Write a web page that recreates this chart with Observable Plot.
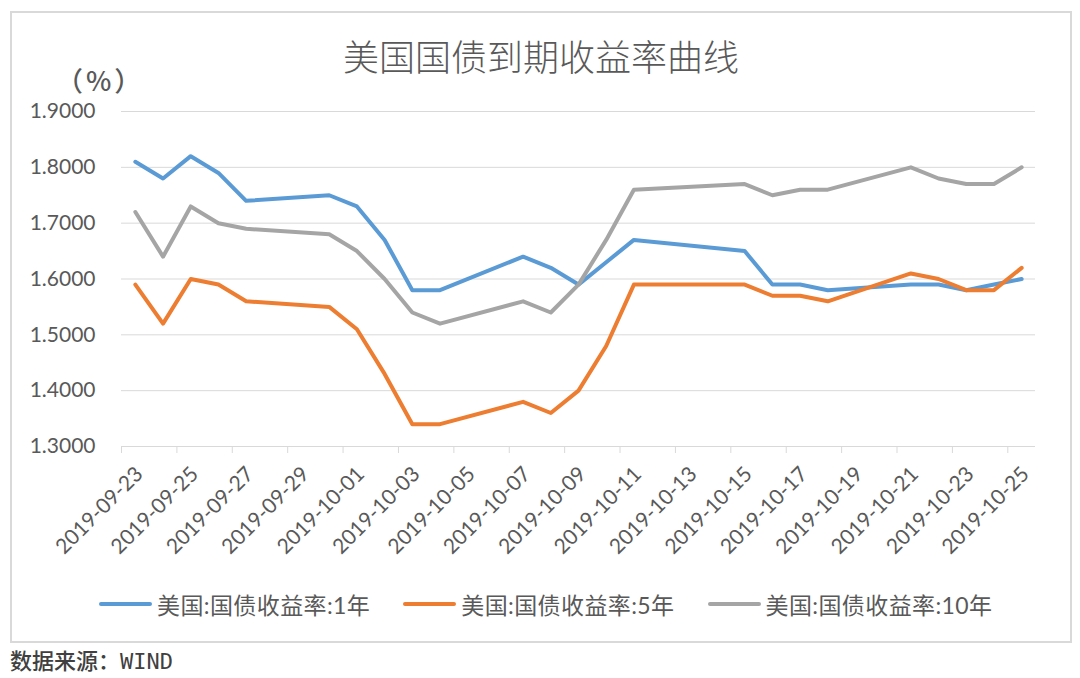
<!DOCTYPE html>
<html><head><meta charset="utf-8">
<script src="https://cdn.jsdelivr.net/npm/d3@7"></script>
<script src="https://cdn.jsdelivr.net/npm/@observablehq/plot@0.6"></script>
<style>
body{margin:0;background:#fff;}
#wrap{position:relative;width:1080px;height:678px;overflow:hidden;font-family:Lato,"Noto Sans CJK SC",sans-serif;}
#frame{position:absolute;left:10px;top:11px;width:1062px;height:632px;border:2px solid #D9D9D9;box-sizing:border-box;pointer-events:none;}
#head{position:relative;height:90px;}
#title{position:absolute;left:10px;width:1062px;top:33px;text-align:center;font-size:36px;line-height:44px;color:#595959;font-family:"Noto Sans CJK SC",sans-serif;font-weight:300;}
#unit{position:absolute;left:56px;top:64px;font-size:27px;line-height:32px;letter-spacing:3px;color:#595959;font-family:"Noto Sans CJK SC",sans-serif;font-weight:500;}
#chart svg{display:block;}
#legend{height:68px;display:flex;align-items:center;padding-left:99px;gap:33px;font-size:23px;letter-spacing:0.4px;color:#595959;font-family:Lato,"Noto Sans CJK SC",sans-serif;}
.item{display:flex;align-items:center;}
.sw{width:53px;height:4px;margin-right:5px;border-radius:2px;}
#source{margin-top:11px;height:26px;line-height:26px;padding-left:10px;font-size:22px;font-weight:500;color:#404040;font-family:"DejaVu Sans Mono","Noto Sans CJK SC",monospace;}
</style>
</head><body>
<div id="wrap">
  <div id="frame"></div>
  <div id="head"><div id="title">美国国债到期收益率曲线</div><div id="unit">（%）</div></div>
  <div id="chart"></div>
  <div id="legend"></div>
  <div id="source">数据来源：WIND</div>
</div>
<script>
const dates = ["2019-09-23","2019-09-24","2019-09-25","2019-09-26","2019-09-27","2019-09-30","2019-10-01","2019-10-02","2019-10-03","2019-10-04","2019-10-07","2019-10-08","2019-10-09","2019-10-10","2019-10-11","2019-10-15","2019-10-16","2019-10-17","2019-10-18","2019-10-21","2019-10-22","2019-10-23","2019-10-24","2019-10-25"];
const yield1 = [1.81,1.78,1.82,1.79,1.74,1.75,1.73,1.67,1.58,1.58,1.64,1.62,1.59,1.63,1.67,1.65,1.59,1.59,1.58,1.59,1.59,1.58,1.59,1.60];
const yield5 = [1.59,1.52,1.60,1.59,1.56,1.55,1.51,1.43,1.34,1.34,1.38,1.36,1.40,1.48,1.59,1.59,1.57,1.57,1.56,1.61,1.60,1.58,1.58,1.62];
const yield10 = [1.72,1.64,1.73,1.70,1.69,1.68,1.65,1.60,1.54,1.52,1.56,1.54,1.59,1.67,1.76,1.77,1.75,1.76,1.76,1.80,1.78,1.77,1.77,1.80];
const seriesNames = ["美国:国债收益率:1年","美国:国债收益率:5年","美国:国债收益率:10年"];
const seriesColors = ["#5B9BD5","#ED7D31","#A5A5A5"];
const xLabels = ["2019-09-23","2019-09-25","2019-09-27","2019-09-29","2019-10-01","2019-10-03","2019-10-05","2019-10-07","2019-10-09","2019-10-11","2019-10-13","2019-10-15","2019-10-17","2019-10-19","2019-10-21","2019-10-23","2019-10-25"];
const yTicks = [1.3,1.4,1.5,1.6,1.7,1.8,1.9];

const parse = d3.utcParse("%Y-%m-%d");
const fmt = d3.utcFormat("%Y-%m-%d");
const HALF = 12*3600*1000;
const allSeries = [yield1, yield5, yield10];
const rows = [];
allSeries.forEach((vals, i) => vals.forEach((v, j) => rows.push({date: parse(dates[j]), value: v, series: seriesNames[i]})));
const labelDates = xLabels.map(parse);
const boundaryDates = labelDates.map(d => new Date(+d - HALF));
const xDomain = [new Date(+parse(dates[0]) - HALF), new Date(+parse(dates[dates.length-1]) + HALF)];

const chart = Plot.plot({
  width: 1080, height: 480,
  marginLeft: 121, marginRight: 45, marginTop: 21, marginBottom: 124,
  style: {fontFamily: "Lato, 'Noto Sans CJK SC', sans-serif", fontSize: "21px", color: "#595959", background: "transparent", overflow: "visible"},
  x: {type: "utc", domain: xDomain},
  y: {domain: [1.3, 1.9]},
  color: {domain: seriesNames, range: seriesColors},
  marks: [
    Plot.gridY({ticks: yTicks, stroke: "#D9D9D9", strokeOpacity: 1, strokeWidth: 1}),
    Plot.axisY({ticks: yTicks, tickSize: 0, tickPadding: 26, tickFormat: d3.format(".4f"), fontSize: 21, label: null}),
    Plot.axisX({ticks: boundaryDates, tickSize: 7, tickFormat: () => "", stroke: "#D9D9D9", strokeOpacity: 1, label: null}),
    Plot.axisX({ticks: labelDates, tickSize: 0, tickPadding: 24, tickRotate: -45, tickFormat: fmt, fontSize: 21, dx: 4, label: null}),
    Plot.line(rows, {x: "date", y: "value", z: "series", stroke: "series", strokeWidth: 4, strokeLinejoin: "round", strokeLinecap: "round"})
  ]
});
document.getElementById("chart").appendChild(chart);

const legend = document.getElementById("legend");
seriesNames.forEach((name, i) => {
  const item = document.createElement("div");
  item.className = "item";
  const sw = document.createElement("div");
  sw.className = "sw";
  sw.style.background = seriesColors[i];
  const t = document.createElement("span");
  t.textContent = name;
  item.appendChild(sw); item.appendChild(t);
  legend.appendChild(item);
});
</script>
</body></html>
